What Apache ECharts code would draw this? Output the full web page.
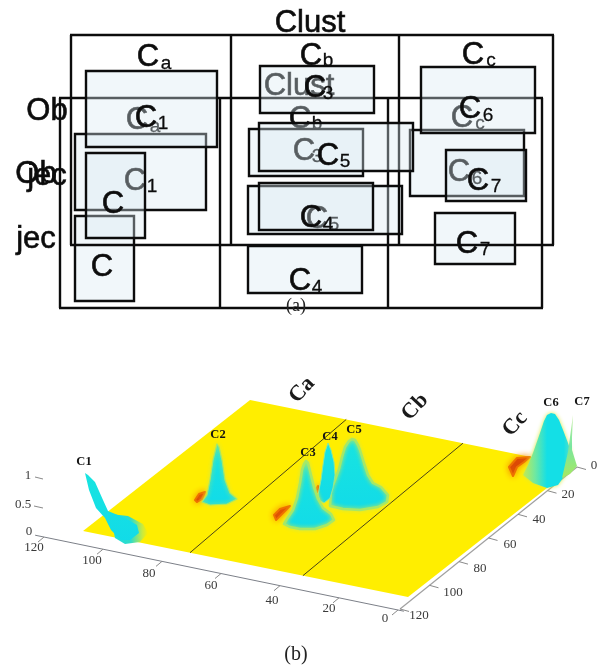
<!DOCTYPE html>
<html><head><meta charset="utf-8">
<style>html,body{margin:0;padding:0;background:#fff}#c{width:604px;height:666px}</style>
<script src="https://cdn.jsdelivr.net/npm/echarts@6/dist/echarts.min.js"></script>
</head><body><div id="c"></div>
<script>
// ---- panel (a): one schematic, printed twice with a shift
const frameXs = [71, 231, 399, 553];
const frameYs = [35, 245];
const boxes = [
  [86, 71, 217, 147], [86, 153, 145, 238], [260, 66, 374, 113], [259, 123, 413, 171],
  [259, 183, 373, 230], [421, 67, 535, 133], [446, 150, 526, 201]
];
const bigLabels = [
  ['Clust', 310, 23], ['Ob', 47, 111], ['jec', 47, 176], ['C', 148, 57], ['C', 311, 56], ['C', 473, 55],
  ['C', 146, 118], ['C', 113, 204], ['C', 315, 88], ['C', 328, 156], ['C', 311, 218], ['C', 470, 109], ['C', 478, 181]
];
const subLabels = [
  ['a', 166, 64], ['b', 328, 61], ['c', 491, 61], ['1', 163, 124], ['3', 328, 94],
  ['5', 345, 162], ['4', 328, 225], ['6', 488, 116], ['7', 496, 187]
];
const layerShifts = [[-11, 63], [0, 0]];
// ---- panel (b): a surface seen in oblique view
const axisRange = [0, 120];
const tickValues = [0, 20, 40, 60, 80, 100, 120];
const zTicks = [['1', 28, 476, 35, 477, 43, 479], ['0.5', 23, 505, 34, 506, 43, 508], ['0', 29, 532, 35, 536, 35, 536]];
const frontLabelPos = [[385, 619], [329, 609], [272, 601], [211, 586], [149, 574], [92, 561], [34, 548]];
const depthLabelPos = [[594, 466], [568, 495], [539, 520], [510, 545], [480, 569], [453, 593], [419, 616]];
const dividers = [[80.5, 84.5], [38.8, 41.4]];
const clusterNames = [['Ca', 302, 390], ['Cb', 415, 407], ['Cc', 515, 424]];
const peakNames = [['C1', 84, 462], ['C2', 218, 435], ['C3', 308, 453], ['C4', 330, 437], ['C5', 354, 430], ['C6', 551, 403], ['C7', 582, 402]];
const redMarks = [
  [[205, 492], [199, 494], [195, 500], [197, 502], [202, 499]],
  [[290, 506], [280, 509], [274, 515], [276, 520], [281, 515]],
  [[318, 486], [316, 489], [317, 492], [319, 490]],
  [[530, 457], [517, 458], [509, 467], [513, 476], [517, 467], [524, 462]]
];
const c1Halo = [[110, 514], [128, 516], [143, 524], [148, 533], [140, 542], [125, 544], [115, 538]];
const c1Outline = [[85, 473], [88, 475], [95, 482], [103, 500], [108, 511], [125, 518], [137, 525], [139, 533], [130, 540], [121, 540], [111, 530], [105, 518], [96, 508], [89, 490]];
const c2Outline = [[217, 444], [213, 460], [210, 480], [207, 495], [202, 502], [210, 505], [227, 504], [237, 499], [230, 493], [225, 480], [222, 460], [219, 447]];
const c3Outline = [[304, 464], [306, 461], [308, 463], [311, 475], [314, 487], [318, 499], [323, 508], [331, 514], [334, 520], [327, 525], [315, 529], [300, 529], [290, 527], [284, 524], [287, 519], [293, 510], [297, 498], [300, 483], [302, 470]];
const c4Outline = [[328, 443], [325, 452], [323, 465], [321, 480], [318, 495], [320, 501], [324, 503], [330, 498], [333, 488], [335, 475], [334, 462], [331, 450]];
const c5Outline = [[349, 441], [352, 439], [355, 440], [358, 445], [360, 450], [364, 463], [368, 475], [373, 483], [381, 487], [388, 495], [387, 502], [378, 507], [360, 510], [343, 509], [330, 506], [331, 490], [335, 480], [339, 469], [342, 457], [345, 447]];
const c6Outline = [[547, 415], [551, 413], [555, 414], [559, 420], [563, 430], [568, 443], [571, 452], [569, 465], [565, 475], [558, 485], [547, 488], [533, 483], [523, 475], [528, 465], [533, 453], [540, 433], [544, 421]];
const c7Outline = [[573, 415], [570, 437], [568, 452], [562, 478], [570, 474], [577, 466], [572, 450], [572, 437]];

// ---- projections of the surface's two horizontal axes into page units
function floorPoint(h, d) { return [408 - 2.708 * h + 1.392 * (120 - d), 597 - 0.55 * h - 1.092 * (120 - d)]; }
function frontPoint(h) { return [398 - 2.95 * h, 610 - 0.608 * h]; }
function depthPoint(d) { return [577 - 1.475 * d, 467 + 1.183 * d]; }

const sans = '"Liberation Sans", Arial, sans-serif', serif = '"Liberation Serif", "Times New Roman", serif';
const ink = '#0c0c0c';

function custom(data, render, z) {
  return { type: 'custom', coordinateSystem: 'cartesian2d', clip: false, silent: true, z: z, data: data,
    encode: { x: 0, y: 1 }, renderItem: render };
}
const idx = arr => arr.map((_, i) => [0, 0, i]);
function textEl(api, s, x, y, font, fill, rot, heavy) {
  const p = api.coord([x, y]);
  const st = { text: s, x: 0, y: 0, font: font, fill: fill || ink, align: 'center', verticalAlign: 'middle' };
  if (heavy) { st.stroke = fill || ink; st.lineWidth = heavy; }
  return { type: 'text', x: p[0], y: p[1], rotation: rot || 0, style: st };
}
function polyEl(api, pts, style) {
  return { type: 'polygon', shape: { points: pts.map(p => api.coord(p)) }, style: Object.assign({ lineJoin: 'round' }, style) };
}

const series = [];
layerShifts.forEach((s, li) => {
  const base = li * 10;
  series.push(custom(idx(frameXs), (p, api) => {
    const x = frameXs[p.dataIndex] + s[0];
    const a = api.coord([x, frameYs[0] + s[1]]), b = api.coord([x, frameYs[1] + s[1]]);
    return { type: 'line', shape: { x1: a[0], y1: a[1], x2: b[0], y2: b[1] }, style: { stroke: ink, lineWidth: 2.4 } };
  }, 2 + base));
  series.push(custom(idx(frameYs), (p, api) => {
    const y = frameYs[p.dataIndex] + s[1];
    const a = api.coord([frameXs[0] + s[0] - 1, y]), b = api.coord([frameXs[3] + s[0] + 1, y]);
    return { type: 'line', shape: { x1: a[0], y1: a[1], x2: b[0], y2: b[1] }, style: { stroke: ink, lineWidth: 2.4 } };
  }, 2 + base));
  series.push(custom(idx(boxes), (p, api) => {
    const b = boxes[p.dataIndex];
    const a = api.coord([b[0] + s[0], b[1] + s[1]]), c = api.coord([b[2] + s[0], b[3] + s[1]]);
    return { type: 'rect', shape: { x: a[0], y: a[1], width: c[0] - a[0], height: c[1] - a[1] },
      style: { fill: 'rgba(218,234,242,0.37)', stroke: ink, lineWidth: 2.4 } };
  }, 3 + base));
  series.push(custom(idx(bigLabels), (p, api) => {
    const t = bigLabels[p.dataIndex];
    return textEl(api, t[0], t[1] + s[0], t[2] + s[1], '31px ' + sans, ink, 0, 0.6);
  }, 4 + base));
  series.push(custom(idx(subLabels), (p, api) => {
    const t = subLabels[p.dataIndex];
    return textEl(api, t[0], t[1] + s[0], t[2] + s[1], '19px ' + sans, ink, 0, 0.3);
  }, 4 + base));
});

series.push(custom([[0, 0, 0]], (p, api) => polyEl(api, [
  floorPoint(axisRange[0], axisRange[1]), floorPoint(axisRange[1], axisRange[1]),
  floorPoint(axisRange[1], axisRange[0]), floorPoint(axisRange[0], axisRange[0])
], { fill: '#ffee00' }), 30));
series.push(custom(idx(dividers), (p, api) => {
  const d = dividers[p.dataIndex];
  const a = api.coord(floorPoint(d[0], 120)), b = api.coord(floorPoint(d[1], 0));
  return { type: 'line', shape: { x1: a[0], y1: a[1], x2: b[0], y2: b[1] }, style: { stroke: '#4a4418', lineWidth: 1 } };
}, 31));
series.push(custom([[0, 0, 0]], (p, api) => {
  const f0 = api.coord(frontPoint(-2)), f1 = api.coord(frontPoint(123));
  const d0 = api.coord(depthPoint(0)), d1 = api.coord(depthPoint(120));
  return { type: 'group', children: [
    { type: 'line', shape: { x1: f0[0], y1: f0[1], x2: f1[0], y2: f1[1] }, style: { stroke: '#7c8088', lineWidth: 1 } },
    { type: 'line', shape: { x1: d0[0], y1: d0[1], x2: d1[0], y2: d1[1] }, style: { stroke: '#a0a0a0', lineWidth: 1.2 } }
  ] };
}, 31));
series.push(custom(idx(tickValues), (p, api) => {
  const v = tickValues[p.dataIndex];
  const f = frontPoint(v), d = depthPoint(v);
  const a = api.coord(f), b = api.coord([f[0] - 6, f[1] + 5]), c = api.coord(d), e = api.coord([d[0] + 9, d[1] + 2.5]);
  const fl = frontLabelPos[p.dataIndex], dl = depthLabelPos[p.dataIndex];
  return { type: 'group', children: [
    { type: 'line', shape: { x1: a[0], y1: a[1], x2: b[0], y2: b[1] }, style: { stroke: '#8a8a8a', lineWidth: 1 } },
    { type: 'line', shape: { x1: c[0], y1: c[1], x2: e[0], y2: e[1] }, style: { stroke: '#8a8a8a', lineWidth: 1 } },
    textEl(api, String(v), fl[0], fl[1], '13px ' + serif, '#3a3a3a'),
    textEl(api, String(v), dl[0], dl[1], '13px ' + serif, '#3a3a3a')
  ] };
}, 31));
series.push(custom(idx(zTicks), (p, api) => {
  const t = zTicks[p.dataIndex];
  const a = api.coord([t[3], t[4]]), b = api.coord([t[5], t[6]]);
  return { type: 'group', children: [
    { type: 'line', shape: { x1: a[0], y1: a[1], x2: b[0], y2: b[1] }, style: { stroke: '#8a8a8a', lineWidth: 1 } },
    textEl(api, t[0], t[1], t[2], '13px ' + serif, '#3a3a3a')
  ] };
}, 31));
series.push(custom(idx(redMarks), (p, api) => polyEl(api, redMarks[p.dataIndex], {
  fill: '#d02a08', stroke: '#ee7000', lineWidth: 2, shadowBlur: 6, shadowColor: '#f59000'
}), 32));
const cyan = '#14dfe6', rim = '#a5e868';
const cyanFill = { type: 'linear', x: 0, y: 0, x2: 0, y2: 1, colorStops: [{ offset: 0, color: '#18e4e0' }, { offset: 1, color: '#12dbe8' }] };
const glow = { shadowBlur: 4, shadowColor: '#d8ea40' };
function peak(outline, style, z) {
  return custom([[0, 0, 0]], (p, api) => polyEl(api, outline, style), z);
}
series.push(peak(c1Halo, { fill: { type: 'linear', x: 0, y: 0, x2: 1, y2: 0, colorStops: [{ offset: 0, color: cyan }, { offset: 0.55, color: '#30dcc8' }, { offset: 0.85, color: '#c8ea40' }, { offset: 1, color: '#ffee00' }] } }, 33));
series.push(peak(c1Outline, { fill: cyanFill }, 34));
series.push(peak(c2Outline, Object.assign({ fill: cyanFill, stroke: rim, lineWidth: 1.2 }, glow), 34));
series.push(peak(c5Outline, Object.assign({ fill: cyanFill, stroke: rim, lineWidth: 2.5 }, glow), 34));
series.push(peak(c4Outline, { fill: cyanFill, stroke: '#88e8a0', lineWidth: 1 }, 35));
series.push(peak(c3Outline, Object.assign({ fill: cyanFill, stroke: rim, lineWidth: 2.5 }, glow), 36));
series.push(peak(c6Outline, Object.assign({ fill: { type: 'linear', x: 0, y: 0, x2: 1, y2: 0, colorStops: [{ offset: 0, color: '#c4ea50' }, { offset: 0.25, color: '#70e8a0' }, { offset: 0.5, color: cyan }, { offset: 0.85, color: cyan }, { offset: 1, color: '#60e0c0' }] } }, glow), 35));
series.push(peak(c7Outline, { fill: { type: 'linear', x: 0, y: 0, x2: 0, y2: 1, colorStops: [{ offset: 0, color: '#c8f0a0' }, { offset: 0.5, color: '#78e6a0' }, { offset: 1, color: '#a8e860' }] } }, 36));
series.push(custom(idx(clusterNames), (p, api) => {
  const t = clusterNames[p.dataIndex];
  return textEl(api, t[0], t[1], t[2], 'bold 22px ' + serif, '#1a1a1a', 0.82);
}, 40));
series.push(custom(idx(peakNames), (p, api) => {
  const t = peakNames[p.dataIndex];
  return textEl(api, t[0], t[1], t[2], 'bold 12.5px ' + serif, '#141414');
}, 40));
const captions = [['(a)', 296, 306, 18], ['(b)', 296, 655, 20]];
series.push(custom(idx(captions), (p, api) => {
  const t = captions[p.dataIndex];
  return textEl(api, t[0], t[1], t[2], t[3] + 'px ' + serif, '#222');
}, 40));

const chart = echarts.init(document.getElementById('c'), null, { renderer: 'canvas' });
chart.setOption({
  animation: false,
  backgroundColor: '#fff',
  grid: { left: 0, right: 0, top: 0, bottom: 0 },
  xAxis: { type: 'value', min: 0, max: 604, show: false },
  yAxis: { type: 'value', min: 0, max: 666, inverse: true, show: false },
  series: series
});
</script></body></html>
